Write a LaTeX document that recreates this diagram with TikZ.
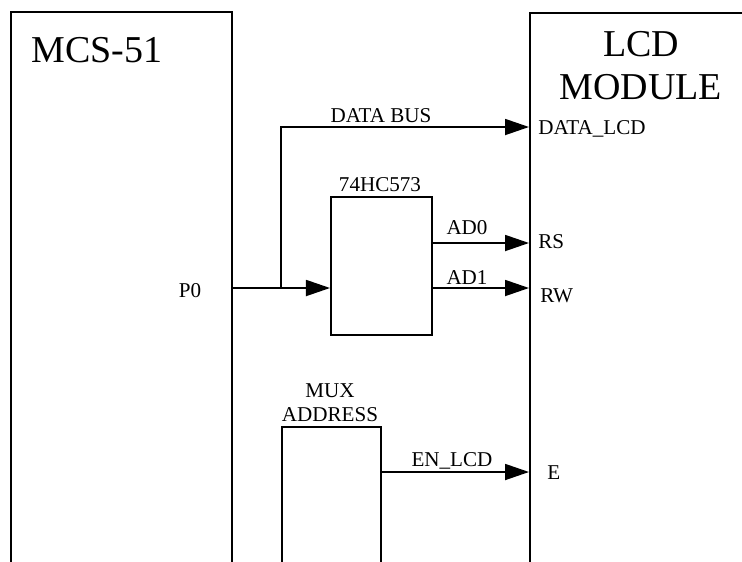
\documentclass[tikz,border=0pt]{standalone}
\usepackage{fontspec}
\setmainfont{Liberation Serif}
\usetikzlibrary{arrows.meta, positioning, calc}

\begin{document}
\begin{tikzpicture}[
  x=0.025cm, y=-0.025cm,
  every node/.style={font=\fontsize{15}{17}\selectfont},
  block/.style={rectangle, draw, line width=1.3pt, inner sep=0pt, anchor=north west},
  title/.style={font=\fontsize{27}{30.5}\selectfont, align=center},
  sig/.style={-{Triangle[length=6mm, width=4mm]}, line width=1.3pt},
  wire/.style={line width=1.3pt},
]
  \useasboundingbox (0,0) rectangle (742,561);
  \clip (0,0) rectangle (742,561);

  % Blocs
  \node[block, minimum width=5.525cm, minimum height=15cm] (MCU) at (10,11) {};
  \node[block, minimum width=7cm, minimum height=15cm] (LCD) at (529,12) {};
  \node[block, minimum width=2.525cm, minimum height=3.45cm] (LATCH) at (330,196) {};
  \node[block, minimum width=2.475cm, minimum height=5cm] (MUX) at (281,426) {};

  % Titres
  \node[title] (mcuname) at (97,50) {MCS-51};
  \node[title] (lcdname) at (641,66) {LCD\\MODULE};
  \node (latchname) at (380,185) {74HC573};
  \node[align=center] (muxname) at (330,403) {MUX\\ADDRESS};

  % Points de connexion
  \coordinate (p0) at (231,288);
  \coordinate (jn) at (281,288);
  \coordinate (dbus) at (281,127);
  \coordinate (ad0) at ($(LATCH.north east)+(0,47)$);
  \coordinate (ad1) at ($(LATCH.north east)+(0,92)$);
  \coordinate (en) at ($(MUX.north east)+(0,46)$);

  % Signaux
  \draw[sig] (p0) -- (p0 -| LATCH.west);
  \draw[sig] (jn) -- (dbus) -- (dbus -| LCD.west);
  \draw[sig] (ad0) -- (ad0 -| LCD.west);
  \draw[sig] (ad1) -- (ad1 -| LCD.west);
  \draw[sig] (en) -- (en -| LCD.west);

  % Etiquettes
  \node (p0name) at (190,291) {P0};
  \node (dbusname) at (381,116) {DATA BUS};
  \node (ad0name) at (467,228) {AD0};
  \node (ad1name) at (467,278) {AD1};
  \node (enname) at (452,461) {EN\_LCD};
  \node[anchor=west, inner sep=0pt] (dlcdname) at (538,129) {DATA\_LCD};
  \node[anchor=west, inner sep=0pt] (rsname) at (538,242) {RS};
  \node[anchor=west, inner sep=0pt] (rwname) at (540,296) {RW};
  \node[anchor=west, inner sep=0pt] (ename) at (547,473) {E};
\end{tikzpicture}
\end{document}
